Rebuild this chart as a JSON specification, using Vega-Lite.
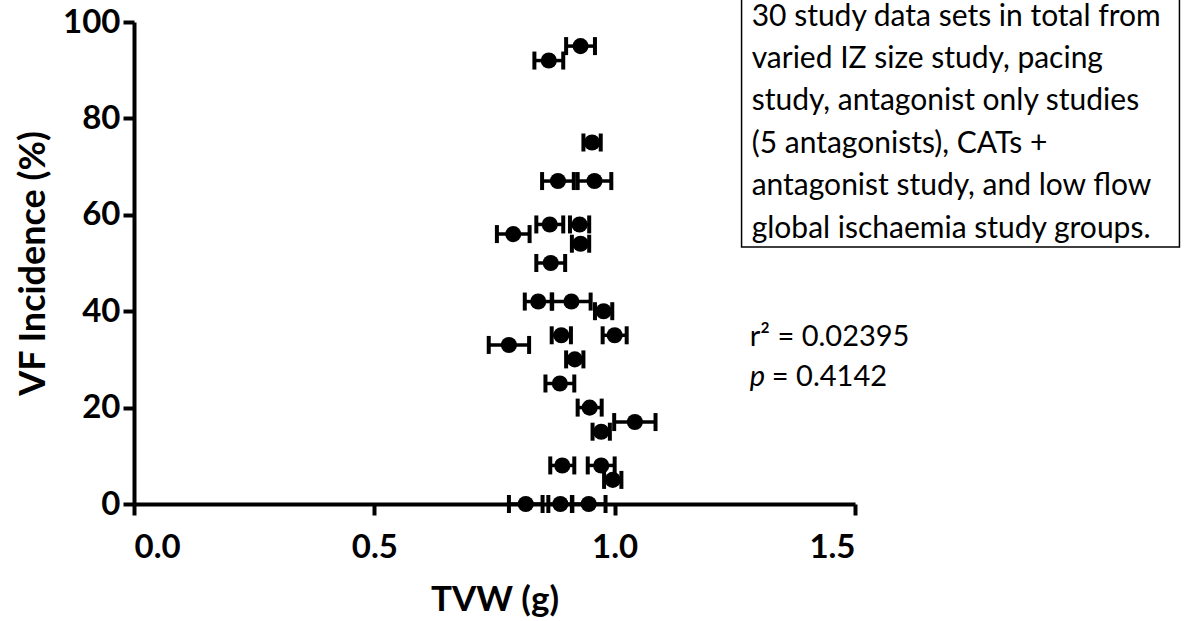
{
  "$schema": "https://vega.github.io/schema/vega-lite/v6.json",
  "width": 721,
  "height": 482,
  "autosize": {"type": "none"},
  "padding": {"left": 134, "top": 22, "right": 329, "bottom": 117},
  "background": "white",
  "config": {
    "view": {"stroke": null},
    "font": "Lato",
    "axis": {
      "grid": false,
      "domainColor": "black",
      "domainWidth": 4,
      "tickColor": "black",
      "tickWidth": 4,
      "tickSize": 11,
      "labelColor": "black",
      "labelFont": "Lato",
      "labelFontWeight": "bold",
      "labelFontSize": 33,
      "titleColor": "black",
      "titleFont": "Lato",
      "titleFontWeight": "bold",
      "titleFontSize": 35
    }
  },
  "datasets": {
    "studies": [
      {"tvw": 0.929, "vf": 95, "sem": 0.030},
      {"tvw": 0.863, "vf": 92, "sem": 0.030},
      {"tvw": 0.953, "vf": 75, "sem": 0.018},
      {"tvw": 0.882, "vf": 67, "sem": 0.033},
      {"tvw": 0.958, "vf": 67, "sem": 0.035},
      {"tvw": 0.865, "vf": 58, "sem": 0.028},
      {"tvw": 0.927, "vf": 58, "sem": 0.020},
      {"tvw": 0.789, "vf": 56, "sem": 0.034},
      {"tvw": 0.929, "vf": 54, "sem": 0.018},
      {"tvw": 0.867, "vf": 50, "sem": 0.030},
      {"tvw": 0.841, "vf": 42, "sem": 0.028},
      {"tvw": 0.910, "vf": 42, "sem": 0.040},
      {"tvw": 0.977, "vf": 40, "sem": 0.018},
      {"tvw": 0.889, "vf": 35, "sem": 0.020},
      {"tvw": 1.000, "vf": 35, "sem": 0.025},
      {"tvw": 0.780, "vf": 33, "sem": 0.042},
      {"tvw": 0.917, "vf": 30, "sem": 0.018},
      {"tvw": 0.886, "vf": 25, "sem": 0.030},
      {"tvw": 0.948, "vf": 20, "sem": 0.025},
      {"tvw": 1.042, "vf": 17, "sem": 0.043},
      {"tvw": 0.972, "vf": 15, "sem": 0.018},
      {"tvw": 0.891, "vf": 8, "sem": 0.025},
      {"tvw": 0.972, "vf": 8, "sem": 0.028},
      {"tvw": 0.996, "vf": 5, "sem": 0.018},
      {"tvw": 0.815, "vf": 0, "sem": 0.035},
      {"tvw": 0.887, "vf": 0, "sem": 0.025},
      {"tvw": 0.946, "vf": 0, "sem": 0.035}
    ],
    "single": [{}]
  },
  "layer": [
    {
      "data": {"name": "studies"},
      "mark": {
        "type": "errorbar",
        "color": "black",
        "opacity": 1,
        "thickness": 4,
        "rule": {"strokeWidth": 3.5, "opacity": 1, "color": "black"},
        "ticks": {"size": 18, "thickness": 4, "color": "black", "opacity": 1}
      },
      "encoding": {
        "x": {
          "field": "tvw",
          "type": "quantitative",
          "scale": {"domain": [0, 1.5], "nice": false, "zero": false},
          "axis": {
            "values": [0, 0.5, 1, 1.5],
            "format": ".1f",
            "labelPadding": 16,
            "title": "TVW (g)",
            "titlePadding": 18
          }
        },
        "xError": {"field": "sem"},
        "y": {
          "field": "vf",
          "type": "quantitative",
          "scale": {"domain": [0, 100], "nice": false},
          "axis": {
            "values": [0, 20, 40, 60, 80, 100],
            "labelPadding": 3,
            "title": "VF Incidence (%)",
            "titleFontSize": 36,
            "titlePadding": 10
          }
        }
      }
    },
    {
      "data": {"name": "studies"},
      "mark": {"type": "point", "shape": "circle", "filled": true, "color": "black", "opacity": 1, "size": 260},
      "encoding": {
        "x": {"field": "tvw", "type": "quantitative"},
        "y": {"field": "vf", "type": "quantitative"}
      }
    },
    {
      "data": {"name": "single"},
      "mark": {"type": "rect", "fill": "white", "stroke": "black", "strokeWidth": 1.5, "clip": false},
      "encoding": {
        "x": {"datum": 1.264},
        "x2": {"datum": 2.175},
        "y": {"datum": 53.3},
        "y2": {"datum": 107}
      }
    },
    {
      "data": {"name": "single"},
      "mark": {
        "type": "text",
        "align": "left",
        "baseline": "middle",
        "font": "Lato",
        "fontSize": 30,
        "lineHeight": 42.4,
        "color": "black",
        "text": [
          "30 study data sets in total from",
          "varied IZ size study, pacing",
          "study, antagonist only studies",
          "(5 antagonists), CATs  +",
          "antagonist study, and low flow",
          "global ischaemia study groups."
        ]
      },
      "encoding": {
        "x": {"datum": 1.285},
        "y": {"datum": 101.1}
      }
    },
    {
      "data": {"name": "single"},
      "mark": {"type": "text", "align": "left", "baseline": "middle", "font": "Lato", "fontSize": 29, "color": "black", "text": "r² = 0.02395"},
      "encoding": {"x": {"datum": 1.281}, "y": {"datum": 34.6}}
    },
    {
      "data": {"name": "single"},
      "mark": {"type": "text", "align": "left", "baseline": "middle", "font": "Lato", "fontSize": 29, "fontStyle": "italic", "color": "black", "text": "p"},
      "encoding": {"x": {"datum": 1.281}, "y": {"datum": 26.3}}
    },
    {
      "data": {"name": "single"},
      "mark": {"type": "text", "align": "left", "baseline": "middle", "font": "Lato", "fontSize": 29, "color": "black", "text": "= 0.4142"},
      "encoding": {"x": {"datum": 1.327}, "y": {"datum": 26.3}}
    }
  ]
}
